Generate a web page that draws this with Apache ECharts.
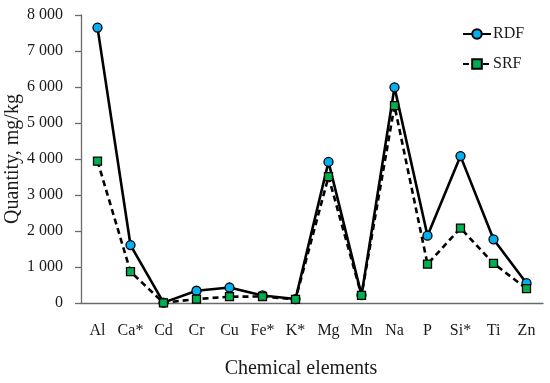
<!DOCTYPE html>
<html>
<head>
<meta charset="utf-8">
<script src="https://cdn.jsdelivr.net/npm/echarts@6/dist/echarts.min.js"></script>
<style>html,body{margin:0;padding:0;background:#fff}#c{width:550px;height:383px}</style>
</head>
<body>
<div id="c"></div>
<script>
const categories = ['Al','Ca*','Cd','Cr','Cu','Fe*','K*','Mg','Mn','Na','P','Si*','Ti','Zn'];
const rdf = [7650, 1610, 10, 340, 430, 210, 110, 3920, 220, 5990, 1870, 4080, 1770, 550];
const srf = [3940, 870, 5, 110, 175, 180, 100, 3510, 210, 5480, 1080, 2080, 1100, 400];
const yTicks = { min: 0, max: 8000, interval: 1000 };

const font = 'Liberation Serif';
const txt = '#1a1a1a';
const axisCol = '#6b6b6b';
const chart = echarts.init(document.getElementById('c'), null, {renderer: 'canvas'});
chart.setOption({
  animation: false,
  backgroundColor: '#fff',
  grid: { left: 81, right: 7, top: 15, bottom: 80, containLabel: false, outerBoundsMode: 'none' },
  legend: {
    orient: 'vertical', left: 457, top: 21, itemWidth: 28, itemHeight: 12, itemGap: 14,
    textStyle: { fontFamily: font, fontSize: 16, color: txt, padding: [0,0,0,-3] },
    data: ['RDF', 'SRF']
  },
  xAxis: [{
    type: 'category', data: categories, boundaryGap: true,
    axisLine: { lineStyle: { color: axisCol, width: 1.3 } },
    axisTick: { alignWithLabel: true, length: 3, lineStyle: { color: axisCol, width: 1.3 } },
    axisLabel: { fontFamily: font, fontSize: 16, color: txt, margin: 20, interval: 0 },
    name: 'Chemical elements', nameLocation: 'middle', nameGap: 56, nameMoveOverlap: false,
    nameTextStyle: { fontFamily: font, fontSize: 20, color: txt, padding: [0, 22, 0, 0] }
  }, {
    type: 'category', data: categories, boundaryGap: true, position: 'bottom',
    axisLine: { show: false },
    axisTick: { alignWithLabel: true, inside: true, length: 3, lineStyle: { color: axisCol, width: 1.3 } },
    axisLabel: { show: false }
  }],
  yAxis: {
    type: 'value', min: yTicks.min, max: yTicks.max, interval: yTicks.interval,
    splitLine: { show: false },
    axisLine: { show: true, lineStyle: { color: axisCol, width: 1.3 } },
    axisTick: { show: true, length: 6, lineStyle: { color: axisCol, width: 1.3 } },
    axisLabel: { fontFamily: font, fontSize: 16, color: txt, margin: 18,
      formatter: v => String(v).replace(/\B(?=(\d{3})+(?!\d))/g, ' ') },
    name: 'Quantity, mg/kg', nameLocation: 'middle', nameGap: 58, nameMoveOverlap: false,
    nameTextStyle: { fontFamily: font, fontSize: 20, color: txt }
  },
  series: [{
    name: 'RDF', type: 'line', data: rdf, xAxisIndex: 0,
    symbol: 'circle', symbolSize: 9,
    lineStyle: { color: '#000', width: 2.6 },
    itemStyle: { color: '#00B0F0', borderColor: '#000', borderWidth: 1.3 },
    z: 3
  }, {
    name: 'SRF', type: 'line', data: srf, xAxisIndex: 0,
    symbol: 'rect', symbolSize: 8,
    lineStyle: { color: '#000', width: 2.6, type: [6, 4] },
    itemStyle: { color: '#00B050', borderColor: '#000', borderWidth: 1.3 },
    z: 4
  }]
});
</script>
</body>
</html>
